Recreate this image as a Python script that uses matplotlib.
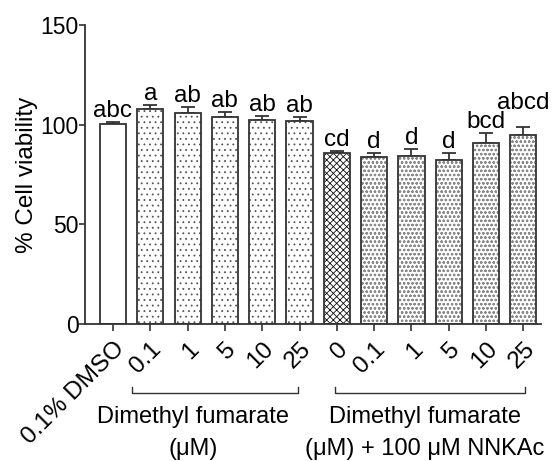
import matplotlib
matplotlib.use("Agg")
import matplotlib.pyplot as plt
import numpy as np

plt.rcParams['font.family'] = ['Liberation Sans', 'DejaVu Sans']
plt.rcParams['hatch.linewidth'] = 0.6

categories = ["0.1% DMSO", "0.1", "1", "5", "10", "25", "0", "0.1", "1", "5", "10", "25"]
values = [100.5, 107.8, 105.7, 104.0, 102.4, 101.7, 85.6, 83.6, 84.4, 82.3, 91.0, 94.8]
errors = [0.8, 1.8, 3.0, 2.2, 2.0, 2.0, 1.2, 2.0, 3.4, 3.7, 4.7, 4.2]
letters = ["abc", "a", "ab", "ab", "ab", "ab", "cd", "d", "d", "d", "bcd", "abcd"]
hatches = ["", "...", "...", "...", "...", "...", "xxxxx", "oooo", "oooo", "oooo", "oooo", "oooo"]
hatch_colors = ["white", "#555555", "#555555", "#555555", "#555555", "#555555",
                "#111111", "#8a8a8a", "#8a8a8a", "#8a8a8a", "#8a8a8a", "#8a8a8a"]
group1_lines = ["Dimethyl fumarate", "(\u03bcM)"]
group2_lines = ["Dimethyl fumarate", "(\u03bcM) + 100 \u03bcM NNKAc"]

fig = plt.figure(figsize=(5.52, 4.61), dpi=100)
ax = fig.add_axes([0.154, 0.297, 0.826, 0.649])

x = np.arange(len(values))
w = 0.7
edge = "#333333"
for i in range(len(values)):
    ax.bar(x[i], values[i], width=w, color="white", edgecolor=hatch_colors[i],
           hatch=hatches[i], linewidth=0, zorder=2)
    ax.bar(x[i], values[i], width=w, color="none", edgecolor=edge, linewidth=1.3, zorder=3)
ax.errorbar(x, values, yerr=[np.zeros(len(errors)), errors], fmt="none",
            ecolor=edge, elinewidth=1.3, capsize=5, capthick=1.3, zorder=1)

for i in range(len(values)):
    dy = 9 if i == len(values) - 1 else 0  # last label lifted to clear its neighbour
    ax.annotate(letters[i], (x[i], values[i] + errors[i]), xytext=(0, dy),
                textcoords="offset points", ha="center", va="bottom", fontsize=17.5)

ax.set_xlim(-0.75, 11.47)
ax.set_ylim(0, 150)
ax.set_yticks([0, 50, 100, 150])
ax.set_xticks(x)
ax.set_xticklabels(categories, rotation=45, ha="right", va="top",
                   rotation_mode="anchor", fontsize=17.5)
ax.tick_params(axis="y", labelsize=16.5, length=4, width=1.2, color=edge, pad=0.5)
ax.tick_params(axis="x", length=5, width=1.2, color=edge, pad=5)
ax.set_ylabel("% Cell viability", fontsize=17.5)
ax.yaxis.set_label_coords(-0.104, 0.5)
for s in ["top", "right"]:
    ax.spines[s].set_visible(False)
for s in ["left", "bottom"]:
    ax.spines[s].set_color(edge)
    ax.spines[s].set_linewidth(1.3)

# group brackets
trans = ax.get_xaxis_transform()
def bracket(x0, x1):
    y = -0.231
    ax.plot([x0, x0, x1, x1], [y + 0.02, y, y, y + 0.02], color=edge, lw=1.0,
            transform=trans, clip_on=False)

def group_text(xd, lines):
    xf = fig.transFigure.inverted().transform(ax.transData.transform((xd, 0)))[0]
    fig.text(xf, 1 - 423 / 461, lines[0], ha="center", va="baseline", fontsize=17)
    fig.text(xf, 1 - 455 / 461, lines[1], ha="center", va="baseline", fontsize=17)

bracket(0.51, 4.96)
bracket(5.95, 11.05)
group_text(2.14, group1_lines)
group_text(8.35, group2_lines)

fig.savefig("out.png", dpi=100)
